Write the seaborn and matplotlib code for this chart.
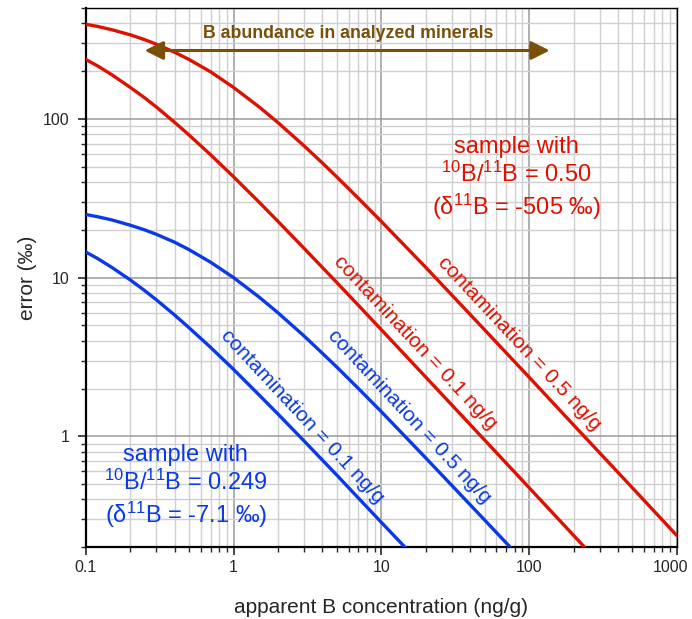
import numpy as np
import pandas as pd
import seaborn as sns
import matplotlib.pyplot as plt
import matplotlib.transforms as mtransforms
from matplotlib.ticker import FixedLocator, LogLocator, NullFormatter

# values (x = apparent B concentration, y = error in permil)
red_05_x = [0.1, 0.12, 0.15, 0.2, 0.25, 0.3, 0.4, 0.5, 0.7, 1, 1.5, 2, 3, 4, 5, 7, 10, 20, 50, 100, 200, 500, 1000]
red_05_y = [395, 383, 365, 339, 316, 296, 263, 237, 198, 158, 118.5, 94.8, 67.7, 52.7, 43.1, 31.6, 22.6, 11.6, 4.69, 2.36, 1.18, 0.474, 0.237]

red_01_x = [0.1, 0.12, 0.15, 0.2, 0.25, 0.3, 0.4, 0.5, 0.7, 1, 1.5, 2, 3, 5, 7, 10, 20, 50, 100, 240]
red_01_y = [237, 216, 190, 158, 136, 119, 95, 79.2, 59.4, 43.2, 29.7, 22.6, 15.3, 9.31, 6.69, 4.70, 2.36, 0.948, 0.475, 0.198]

blue_05_x = [0.1, 0.12, 0.15, 0.2, 0.25, 0.3, 0.4, 0.5, 0.7, 1, 1.5, 2, 3, 4, 5, 7, 10, 20, 50, 75]
blue_05_y = [25, 24.2, 23.1, 21.4, 20.0, 18.75, 16.7, 15, 12.5, 10, 7.5, 6.0, 4.29, 3.33, 2.73, 2.0, 1.43, 0.73, 0.297, 0.199]

blue_01_x = [0.1, 0.12, 0.15, 0.2, 0.25, 0.3, 0.4, 0.5, 0.7, 1, 1.5, 2, 3, 5, 7, 10, 15]
blue_01_y = [14.5, 13.2, 11.6, 9.67, 8.29, 7.25, 5.8, 4.83, 3.63, 2.64, 1.81, 1.38, 0.935, 0.569, 0.408, 0.287, 0.193]

x_ticks = [0.1, 1, 10, 100, 1000]
x_ticklabels = ["0.1", "1", "10", "100", "1000"]
y_ticks = [1, 10, 100]
y_ticklabels = ["1", "10", "100"]

red = "#dd1100"
blue = "#0a3ae8"
brown = "#7a5008"

sns.set_style("white")
plt.rcParams['font.family'] = ['Liberation Sans', 'DejaVu Sans']
plt.rcParams['mathtext.fontset'] = 'custom'
plt.rcParams['mathtext.rm'] = 'Liberation Sans'
plt.rcParams['mathtext.it'] = 'Liberation Sans'
plt.rcParams['mathtext.bf'] = 'Liberation Sans:bold'

fig = plt.figure(figsize=(6.92, 6.19), dpi=100)
ax = fig.add_axes([0.124, 0.116, 0.854, 0.871])

curves = [
    (red_05_x, red_05_y, red),
    (red_01_x, red_01_y, red),
    (blue_05_x, blue_05_y, blue),
    (blue_01_x, blue_01_y, blue),
]
for xs, ys, col in curves:
    df = pd.DataFrame({"x": xs, "y": ys})
    sns.lineplot(data=df, x="x", y="y", ax=ax, color=col, lw=2.4,
                 estimator=None, sort=False, legend=False, zorder=3)

ax.set_xscale("log")
ax.set_yscale("log")
ax.set_xlim(0.1, 1000)
ax.set_ylim(0.2, 500)

ax.xaxis.set_major_locator(FixedLocator(x_ticks))
ax.set_xticklabels(x_ticklabels)
ax.yaxis.set_major_locator(FixedLocator(y_ticks))
ax.set_yticklabels(y_ticklabels)
ax.xaxis.set_minor_locator(LogLocator(base=10, subs=np.arange(2, 10)))
ax.yaxis.set_minor_locator(LogLocator(base=10, subs=np.arange(2, 10)))
ax.xaxis.set_minor_formatter(NullFormatter())
ax.yaxis.set_minor_formatter(NullFormatter())

ax.tick_params(which="major", direction="out", length=6, width=1.2, labelsize=11.5,
               bottom=True, left=True)
ax.tick_params(axis="x", which="major", pad=3)
ax.tick_params(axis="y", which="major", pad=6)
ax.tick_params(which="minor", direction="out", length=3.5, width=1, bottom=True, left=True)

# keep the "1000" label inside the figure
last = ax.get_xticklabels()[-1]
last.set_transform(last.get_transform() + mtransforms.ScaledTranslation(-6 / 100, 0, fig.dpi_scale_trans))

ax.grid(which="major", color="#9a9a9a", lw=1.1, zorder=0)
ax.grid(which="minor", color="#cfcfcf", lw=1.0, zorder=0)
ax.set_axisbelow(True)
for side in ["left", "bottom"]:
    ax.spines[side].set_linewidth(1.6)
    ax.spines[side].set_color("black")
for side in ["top", "right"]:
    ax.spines[side].set_linewidth(1.0)
    ax.spines[side].set_color("black")

ax.set_xlabel("apparent B concentration (ng/g)", fontsize=15, labelpad=17)
ax.set_ylabel("error (‰)", fontsize=15, labelpad=4)

# range arrow
ax.annotate("", xy=(0.25, 270), xytext=(138, 270),
            arrowprops=dict(arrowstyle="<|-|>", color=brown, lw=2.2,
                            mutation_scale=28, shrinkA=0, shrinkB=0), zorder=4)
ax.text(6.0, 344, "B abundance in analyzed minerals", color=brown, fontsize=12.8,
        fontweight="bold", ha="center", va="center", zorder=4)

# sample annotations
ax.text(82, 42, "sample with\n$^{10}$B/$^{11}$B = 0.50\n(δ$^{11}$B = -505 ‰)",
        color=red, fontsize=17, ha="center", va="center", linespacing=1.2)
ax.text(0.475, 0.48, "sample with\n$^{10}$B/$^{11}$B = 0.249\n(δ$^{11}$B = -7.1 ‰)",
        color=blue, fontsize=17, ha="center", va="center", linespacing=1.2)

# labels along curves
rot = -47
ax.text(86.5, 3.86, "contamination = 0.5 ng/g", color=red, fontsize=15,
        rotation=rot, ha="center", va="center", rotation_mode="anchor")
ax.text(17.1, 3.92, "contamination = 0.1 ng/g", color=red, fontsize=15,
        rotation=rot, ha="center", va="center", rotation_mode="anchor")
ax.text(15.6, 1.34, "contamination = 0.5 ng/g", color=blue, fontsize=15,
        rotation=rot, ha="center", va="center", rotation_mode="anchor")
ax.text(2.94, 1.34, "contamination = 0.1 ng/g", color=blue, fontsize=15,
        rotation=rot, ha="center", va="center", rotation_mode="anchor")

fig.savefig("out.png", dpi=100)
